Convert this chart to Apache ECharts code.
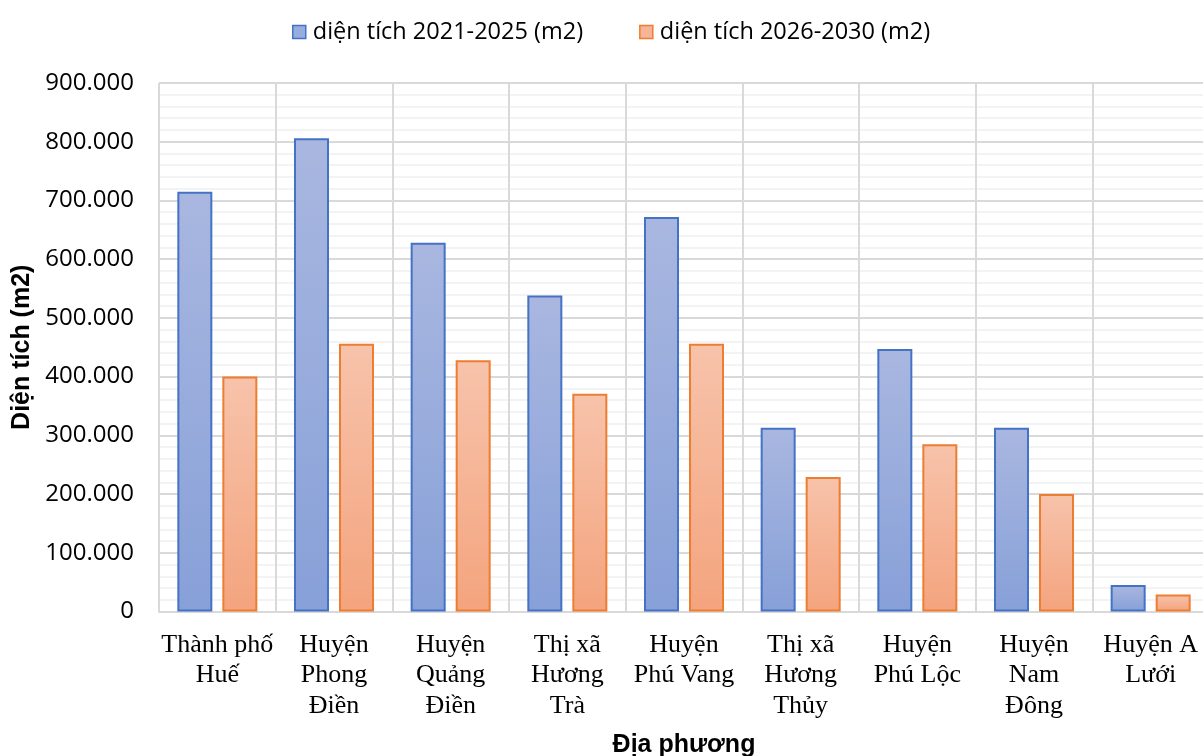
<!DOCTYPE html>
<html>
<head>
<meta charset="utf-8">
<script src="https://cdn.jsdelivr.net/npm/echarts@6/dist/echarts.min.js"></script>
<style>
html,body{margin:0;padding:0;background:#fff;}
#chart{width:1203px;height:756px;}
</style>
</head>
<body>
<div id="chart"></div>
<script>
const categories = [
  'Thành phố\nHuế',
  'Huyện\nPhong\nĐiền',
  'Huyện\nQuảng\nĐiền',
  'Thị xã\nHương\nTrà',
  'Huyện\nPhú Vang',
  'Thị xã\nHương\nThủy',
  'Huyện\nPhú Lộc',
  'Huyện\nNam\nĐông',
  'Huyện A\nLưới'
];
const area2021_2025 = [715000, 806000, 628000, 538000, 672000, 313000, 447000, 313000, 45000];
const area2026_2030 = [400000, 456000, 428000, 371000, 456000, 229000, 285000, 200000, 29000];
const seriesNames = ['diện tích 2021-2025 (m2)', 'diện tích 2026-2030 (m2)'];
const yTicks = { min: 0, max: 900000, interval: 100000 };

function fmt(v) {
  return String(v).replace(/\B(?=(\d{3})+(?!\d))/g, '.');
}
function grad(top, bottom) {
  return new echarts.graphic.LinearGradient(0, 0, 0, 1, [
    { offset: 0, color: top },
    { offset: 1, color: bottom }
  ]);
}

const chart = echarts.init(document.getElementById('chart'), null, { renderer: 'canvas' });
chart.setOption({
  animation: false,
  backgroundColor: '#ffffff',
  textStyle: { fontFamily: 'Open Sans' },
  legend: {
    left: 287,
    top: 15,
    itemWidth: 13,
    itemHeight: 13,
    itemGap: 56,
    icon: 'rect',
    textStyle: { fontFamily: 'Open Sans', fontSize: 23.5, color: '#000', padding: [0, 0, 0, 2] },
    data: [
      { name: seriesNames[0], itemStyle: { color: '#98ACDD', borderColor: '#4472C4', borderWidth: 1.5 } },
      { name: seriesNames[1], itemStyle: { color: '#F6B596', borderColor: '#ED7D31', borderWidth: 1.5 } }
    ]
  },
  grid: { left: 159, top: 83, width: 1050, bottom: 144.5, containLabel: false, outerBoundsMode: 'none' },
  xAxis: {
    type: 'category',
    data: categories,
    boundaryGap: true,
    name: 'Địa phương',
    nameLocation: 'middle',
    nameGap: 121,
    nameTextStyle: { fontFamily: 'Liberation Sans', fontWeight: 'bold', fontSize: 25, color: '#000', verticalAlign: 'top' },
    axisLine: { show: true, lineStyle: { color: '#D9D9D9', width: 2 } },
    axisTick: { show: false },
    axisLabel: {
      interval: 0,
      margin: 18,
      fontFamily: 'Liberation Serif',
      fontSize: 26,
      lineHeight: 30.5,
      color: '#000',
      verticalAlign: 'top'
    },
    splitLine: { show: true, lineStyle: { color: '#D9D9D9', width: 2 } }
  },
  yAxis: {
    type: 'value',
    min: yTicks.min,
    max: yTicks.max,
    interval: yTicks.interval,
    name: 'Diện tích (m2)',
    nameLocation: 'middle',
    nameGap: 124,
    nameTextStyle: { fontFamily: 'Liberation Sans', fontWeight: 'bold', fontSize: 25, color: '#000' },
    axisLine: { show: false },
    axisTick: { show: false },
    axisLabel: {
      margin: 25,
      fontFamily: 'Open Sans',
      fontSize: 24,
      color: '#000',
      formatter: fmt
    },
    splitLine: { show: true, lineStyle: { color: '#D9D9D9', width: 2 } },
    minorTick: { show: false, splitNumber: 5 },
    minorSplitLine: { show: true, lineStyle: { color: '#F0F0F0', width: 1.5 } }
  },
  series: [
    {
      name: seriesNames[0],
      type: 'bar',
      data: area2021_2025,
      barWidth: 35,
      barGap: '28.6%',
      itemStyle: {
        color: grad('#A9B7E0', '#87A0D8'),
        borderColor: '#4472C4',
        borderWidth: 2
      }
    },
    {
      name: seriesNames[1],
      type: 'bar',
      data: area2026_2030,
      barWidth: 35,
      itemStyle: {
        color: grad('#F7C3AB', '#F4A47E'),
        borderColor: '#ED7D31',
        borderWidth: 2
      }
    }
  ]
});
</script>
</body>
</html>
